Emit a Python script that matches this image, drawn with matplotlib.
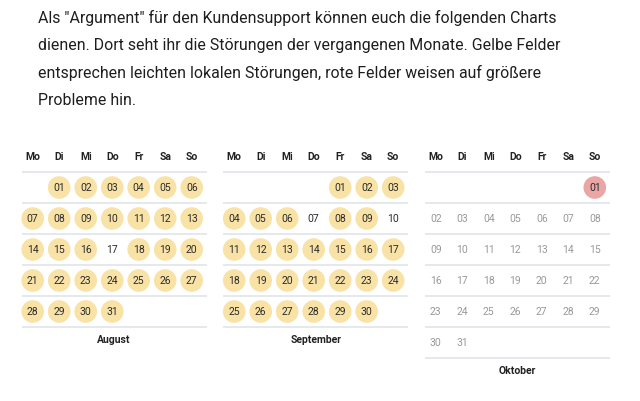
import matplotlib.pyplot as plt
from matplotlib.patches import Circle

plt.rcParams['font.family'] = ['Roboto', 'DejaVu Sans']

intro = ['Als "Argument" für den Kundensupport können euch die folgenden Charts',
         'dienen. Dort seht ihr die Störungen der vergangenen Monate. Gelbe Felder',
         'entsprechen leichten lokalen Störungen, rote Felder weisen auf größere',
         'Probleme hin.']

weekdays = ['Mo', 'Di', 'Mi', 'Do', 'Fr', 'Sa', 'So']
months = ['August', 'September', 'Oktober']
first_weekday = [1, 4, 6]   # Mo=0
n_days = [31, 30, 31]

# status per day: 'y' yellow, 'r' red, 'n' none (ok), 'f' future
status_aug = ['y'] * 31
status_aug[16] = 'n'
status_sep = ['y'] * 30
status_sep[6] = 'n'
status_sep[9] = 'n'
status_oct = ['r'] + ['f'] * 30
statuses = [status_aug, status_sep, status_oct]

colors = {'y': '#f9e2a6', 'r': '#eaa5a5'}

fig = plt.figure(figsize=[6.4, 4.02], dpi=100)
ax = fig.add_axes([0, 0, 1, 1])
ax.set_xlim(0, 640)
ax.set_ylim(402, 0)
ax.axis('off')

for i, line in enumerate(intro):
    ax.text(38, 17.5 + 27.7 * i, line, fontsize=11.45, color='#1e1e1e',
            va='center', ha='left')

block_left = [21.7, 223.2, 424.8]
col_w = 26.5
row_h = 31
line_w = 185
top_line = 173

for m, name in enumerate(months):
    left = block_left[m]
    for c, wd in enumerate(weekdays):
        ax.text(left + 11 + col_w * c, 157.5, wd, fontsize=7.5, fontweight='semibold',
                color='#222222', ha='center', va='center')
    n_rows = (first_weekday[m] + n_days[m] + 6) // 7
    for r in range(n_rows + 1):
        ax.plot([left, left + line_w], [top_line + row_h * r] * 2,
                color='#e3e6ea', lw=1.3, solid_capstyle='butt')
    for d in range(n_days[m]):
        pos = first_weekday[m] + d
        r, c = divmod(pos, 7)
        x = left + 11 + col_w * c
        y = top_line + row_h * r + 15.5
        st = statuses[m][d]
        if st in colors:
            ax.add_patch(Circle((x, y), 11.3, color=colors[st], lw=0))
        tcol = '#999999' if st == 'f' else '#2b2b2b'
        ax.text(x, y, '%02d' % (d + 1), fontsize=7.5, color=tcol,
                ha='center', va='center')
    ax.text(left + line_w / 2, top_line + row_h * n_rows + 12, name,
            fontsize=7.5, fontweight='semibold', color='#222222',
            ha='center', va='center')

plt.savefig('out.png', dpi=100)
